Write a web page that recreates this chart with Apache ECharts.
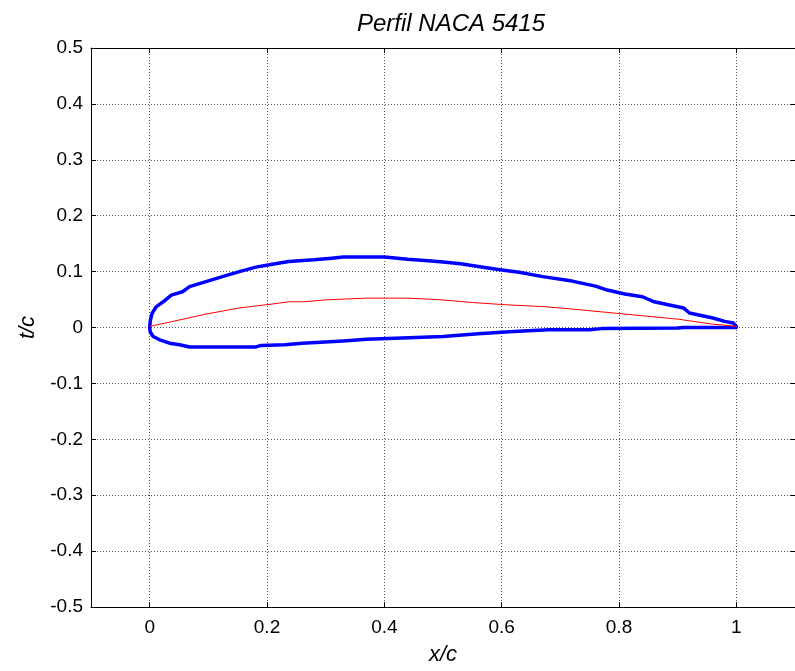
<!DOCTYPE html>
<html>
<head>
<meta charset="utf-8">
<script src="https://cdn.jsdelivr.net/npm/echarts@6/dist/echarts.min.js"></script>
<style>html,body{margin:0;padding:0;background:#fff}#c{width:795px;height:671px}</style>
</head>
<body>
<div id="c"></div>
<script>
var titleText = 'Perfil NACA 5415';
var xName = 'x/c';
var yName = 't/c';
var xTicks = [0, 0.2, 0.4, 0.6, 0.8, 1];
var yTicks = [-0.5, -0.4, -0.3, -0.2, -0.1, 0, 0.1, 0.2, 0.3, 0.4, 0.5];

var upperX = [1.0, 0.995, 0.98, 0.96, 0.92, 0.91, 0.86, 0.84, 0.81, 0.78, 0.76, 0.72, 0.67, 0.63, 0.60, 0.56, 0.53, 0.50, 0.48, 0.44, 0.40, 0.33, 0.31, 0.28, 0.237, 0.209, 0.181, 0.153, 0.124, 0.096, 0.068, 0.056, 0.037, 0.023, 0.011, 0.004, 0.001, 0];
var upperY = [0.002, 0.008, 0.011, 0.017, 0.026, 0.035, 0.046, 0.055, 0.060, 0.067, 0.074, 0.083, 0.091, 0.099, 0.103, 0.109, 0.114, 0.117, 0.119, 0.122, 0.126, 0.126, 0.124, 0.121, 0.118, 0.113, 0.108, 0.100, 0.091, 0.082, 0.073, 0.064, 0.058, 0.046, 0.037, 0.025, 0.012, 0];
var lowerX = [0, 0.001, 0.006, 0.017, 0.034, 0.051, 0.068, 0.18, 0.19, 0.23, 0.26, 0.33, 0.37, 0.43, 0.50, 0.56, 0.62, 0.68, 0.75, 0.77, 0.90, 0.91, 1.0];
var lowerY = [0, -0.008, -0.016, -0.022, -0.028, -0.031, -0.035, -0.035, -0.032, -0.031, -0.028, -0.024, -0.021, -0.019, -0.016, -0.011, -0.007, -0.004, -0.004, -0.002, -0.001, 0.0, 0.0];
var camberX = [0, 0.04, 0.096, 0.153, 0.209, 0.237, 0.263, 0.30, 0.37, 0.44, 0.49, 0.52, 0.55, 0.61, 0.67, 0.72, 0.78, 0.84, 0.90, 0.96, 1.0];
var camberY = [0.002, 0.011, 0.024, 0.035, 0.042, 0.046, 0.046, 0.0495, 0.0525, 0.0525, 0.050, 0.0475, 0.0447, 0.0405, 0.0375, 0.033, 0.027, 0.021, 0.015, 0.006, 0.002];

function pairs(xs, ys) { return xs.map(function (x, i) { return [x, ys[i]]; }); }
var outline = pairs(upperX, upperY).concat(pairs(lowerX, lowerY));
var camber = pairs(camberX, camberY);

var FONT = '"Liberation Sans", Arial, sans-serif';
function fmt(v) { return String(+(+v).toFixed(1)); }

var chart = echarts.init(document.getElementById('c'), null, {renderer: 'canvas'});
var gridLine = {show: true, lineStyle: {color: '#555', type: [1, 2], width: 1}};
chart.setOption({
  animation: false,
  backgroundColor: '#fff',
  title: {
    text: titleText, left: 446, top: 7, textAlign: 'center',
    textStyle: {fontFamily: FONT, fontStyle: 'italic', fontWeight: 'normal', fontSize: 24, color: '#000'}
  },
  grid: {left: 91, top: 48, right: -4, bottom: 63, containLabel: false},
  xAxis: [{
    type: 'value', min: -0.1, max: 1.1, position: 'bottom',
    name: xName, nameLocation: 'middle', nameGap: 37,
    nameTextStyle: {fontFamily: FONT, fontStyle: 'italic', fontSize: 22, color: '#000'},
    axisLine: {show: true, onZero: false, lineStyle: {color: '#000', width: 1}},
    axisTick: {show: true, inside: true, length: 5, customValues: xTicks, lineStyle: {color: '#000'}},
    axisLabel: {show: true, customValues: xTicks, formatter: fmt, fontFamily: FONT, fontSize: 19, color: '#000', margin: 11},
    splitLine: gridLine
  }, {
    type: 'value', min: -0.1, max: 1.1, position: 'top',
    axisLine: {show: true, onZero: false, lineStyle: {color: '#000', width: 1}},
    axisTick: {show: true, inside: true, length: 5, customValues: xTicks, lineStyle: {color: '#000'}},
    axisLabel: {show: false},
    splitLine: {show: false}
  }],
  yAxis: [{
    type: 'value', min: -0.5, max: 0.5, interval: 0.1, position: 'left',
    name: yName, nameLocation: 'middle', nameGap: 50, nameRotate: 90,
    nameTextStyle: {fontFamily: FONT, fontStyle: 'italic', fontSize: 22, color: '#000'},
    axisLine: {show: true, onZero: false, lineStyle: {color: '#000', width: 1}},
    axisTick: {show: true, inside: true, length: 5, lineStyle: {color: '#000'}},
    axisLabel: {show: true, formatter: fmt, fontFamily: FONT, fontSize: 19, color: '#000', margin: 8},
    splitLine: gridLine
  }, {
    type: 'value', min: -0.5, max: 0.5, interval: 0.1, position: 'right',
    axisLine: {show: true, onZero: false, lineStyle: {color: '#000', width: 1}},
    axisTick: {show: true, inside: true, length: 5, lineStyle: {color: '#000'}},
    axisLabel: {show: false},
    splitLine: {show: false}
  }],
  series: [{
    type: 'line', data: outline, xAxisIndex: 0, yAxisIndex: 0,
    showSymbol: false, symbol: 'none', smooth: false,
    lineStyle: {color: '#0000FF', width: 3.5, join: 'round', cap: 'round'}
  }, {
    type: 'line', data: camber, xAxisIndex: 0, yAxisIndex: 0,
    showSymbol: false, symbol: 'none', smooth: false,
    lineStyle: {color: '#FF0000', width: 1}
  }]
});
</script>
</body>
</html>
